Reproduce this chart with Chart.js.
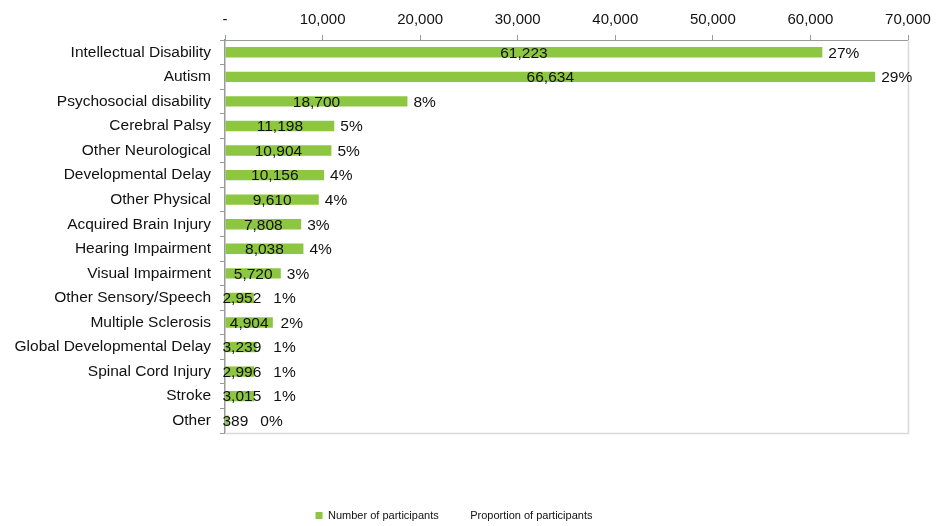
<!DOCTYPE html>
<html>
<head>
<meta charset="utf-8">
<script src="https://cdn.jsdelivr.net/npm/chart.js@4"></script>
<style>
  html, body { margin: 0; padding: 0; background: #fff; }
  #wrap { width: 950px; height: 526px; }
</style>
</head>
<body>
<div id="wrap"><canvas id="chart" width="950" height="526"></canvas></div>
<script>
// categories, top to bottom
const categories = [
    'Intellectual Disability', 'Autism', 'Psychosocial disability', 'Cerebral Palsy',
    'Other Neurological', 'Developmental Delay', 'Other Physical', 'Acquired Brain Injury',
    'Hearing Impairment', 'Visual Impairment', 'Other Sensory/Speech', 'Multiple Sclerosis',
    'Global Developmental Delay', 'Spinal Cord Injury', 'Stroke', 'Other'
];

// number of participants
const participants = [61223, 66634, 18700, 11198, 10904, 10156, 9610, 7808, 8038, 5720, 2952, 4904, 3239, 2996, 3015, 389];

// proportion of participants (%)
const proportions = [27, 29, 8, 5, 5, 4, 4, 3, 4, 3, 1, 2, 1, 1, 1, 0];

const seriesNames = ['Number of participants', 'Proportion of participants'];

const green = '#8DC641';
const axisGrey = '#9a9a9a';
const frameGrey = '#d9d9d9';
const font = 'Liberation Sans, Arial, sans-serif';

// frame round the plot area (light grey right/bottom)
const framePlugin = {
    id: 'frame',
    beforeDatasetsDraw(chart) {
        const { ctx, chartArea: a } = chart;
        ctx.save();
        ctx.strokeStyle = frameGrey;
        ctx.lineWidth = 1.5;
        ctx.beginPath();
        ctx.moveTo(a.left, a.bottom + 0.5);
        ctx.lineTo(a.right + 0.5, a.bottom + 0.5);
        ctx.lineTo(a.right + 0.5, a.top);
        ctx.stroke();
        ctx.restore();
    }
};

// value labels in the bars, percentages after them
const labelPlugin = {
    id: 'barLabels',
    afterDatasetsDraw(chart) {
        const { ctx } = chart;
        const meta = chart.getDatasetMeta(0);
        ctx.save();
        ctx.font = '15.5px ' + font;
        ctx.fillStyle = '#111';
        ctx.textBaseline = 'middle';
        meta.data.forEach((bar, i) => {
            const txt = participants[i].toLocaleString('en-US');
            const w = ctx.measureText(txt).width;
            // centred in the bar, but not pushed far past the axis
            const cx = Math.max((bar.base + bar.x) / 2, bar.base - 3 + w / 2);
            ctx.textAlign = 'center';
            ctx.fillText(txt, cx, bar.y + 1);
            const pctX = Math.max(bar.x + 6, cx + w / 2 + 12);
            ctx.textAlign = 'left';
            ctx.fillText(proportions[i] + '%', pctX, bar.y + 1);
        });
        ctx.restore();
    }
};

new Chart(document.getElementById('chart').getContext('2d'), {
    type: 'bar',
    data: {
        labels: categories,
        datasets: [
            {
                label: seriesNames[0],
                data: participants,
                backgroundColor: green,
                borderWidth: 0,
                barPercentage: 0.42,
                categoryPercentage: 1,
                grouped: false,
                xAxisID: 'x'
            },
            {
                label: seriesNames[1],
                data: proportions,
                backgroundColor: 'rgba(0,0,0,0)',
                borderWidth: 0,
                barPercentage: 0.42,
                categoryPercentage: 1,
                grouped: false,
                xAxisID: 'x2'
            }
        ]
    },
    options: {
        indexAxis: 'y',
        responsive: false,
        animation: false,
        layout: { padding: { left: 0, right: 42, top: 0, bottom: -5 } },
        plugins: {
            tooltip: { enabled: false },
            legend: {
                position: 'bottom',
                labels: {
                    font: { size: 11, family: font },
                    color: '#111',
                    boxWidth: 7,
                    boxHeight: 7,
                    padding: 19
                }
            }
        },
        scales: {
            x: {
                position: 'top',
                min: 0,
                max: 70000,
                afterFit: (s) => { s.height = 40; },
                ticks: {
                    stepSize: 10000,
                    font: { size: 15, family: font },
                    color: '#111',
                    padding: 6,
                    maxRotation: 0,
                    callback: (v) => v === 0 ? '-' : v.toLocaleString('en-US')
                },
                grid: { drawOnChartArea: false, drawTicks: true, tickLength: 5, color: axisGrey },
                border: { color: axisGrey, width: 1 }
            },
            x2: {
                position: 'bottom',
                min: 0,
                max: 100,
                afterFit: (s) => { s.height = 58; },
                ticks: { display: false },
                grid: { display: false },
                border: { display: false }
            },
            y: {
                afterFit: (s) => { s.width = 225; },
                ticks: {
                    font: { size: 15.5, family: font },
                    color: '#111',
                    padding: 9,
                    autoSkip: false
                },
                grid: { drawOnChartArea: false, drawTicks: true, tickLength: 5, color: axisGrey, offset: true },
                border: { color: axisGrey, width: 1.5 }
            }
        }
    },
    plugins: [framePlugin, labelPlugin]
});
</script>
</body>
</html>
